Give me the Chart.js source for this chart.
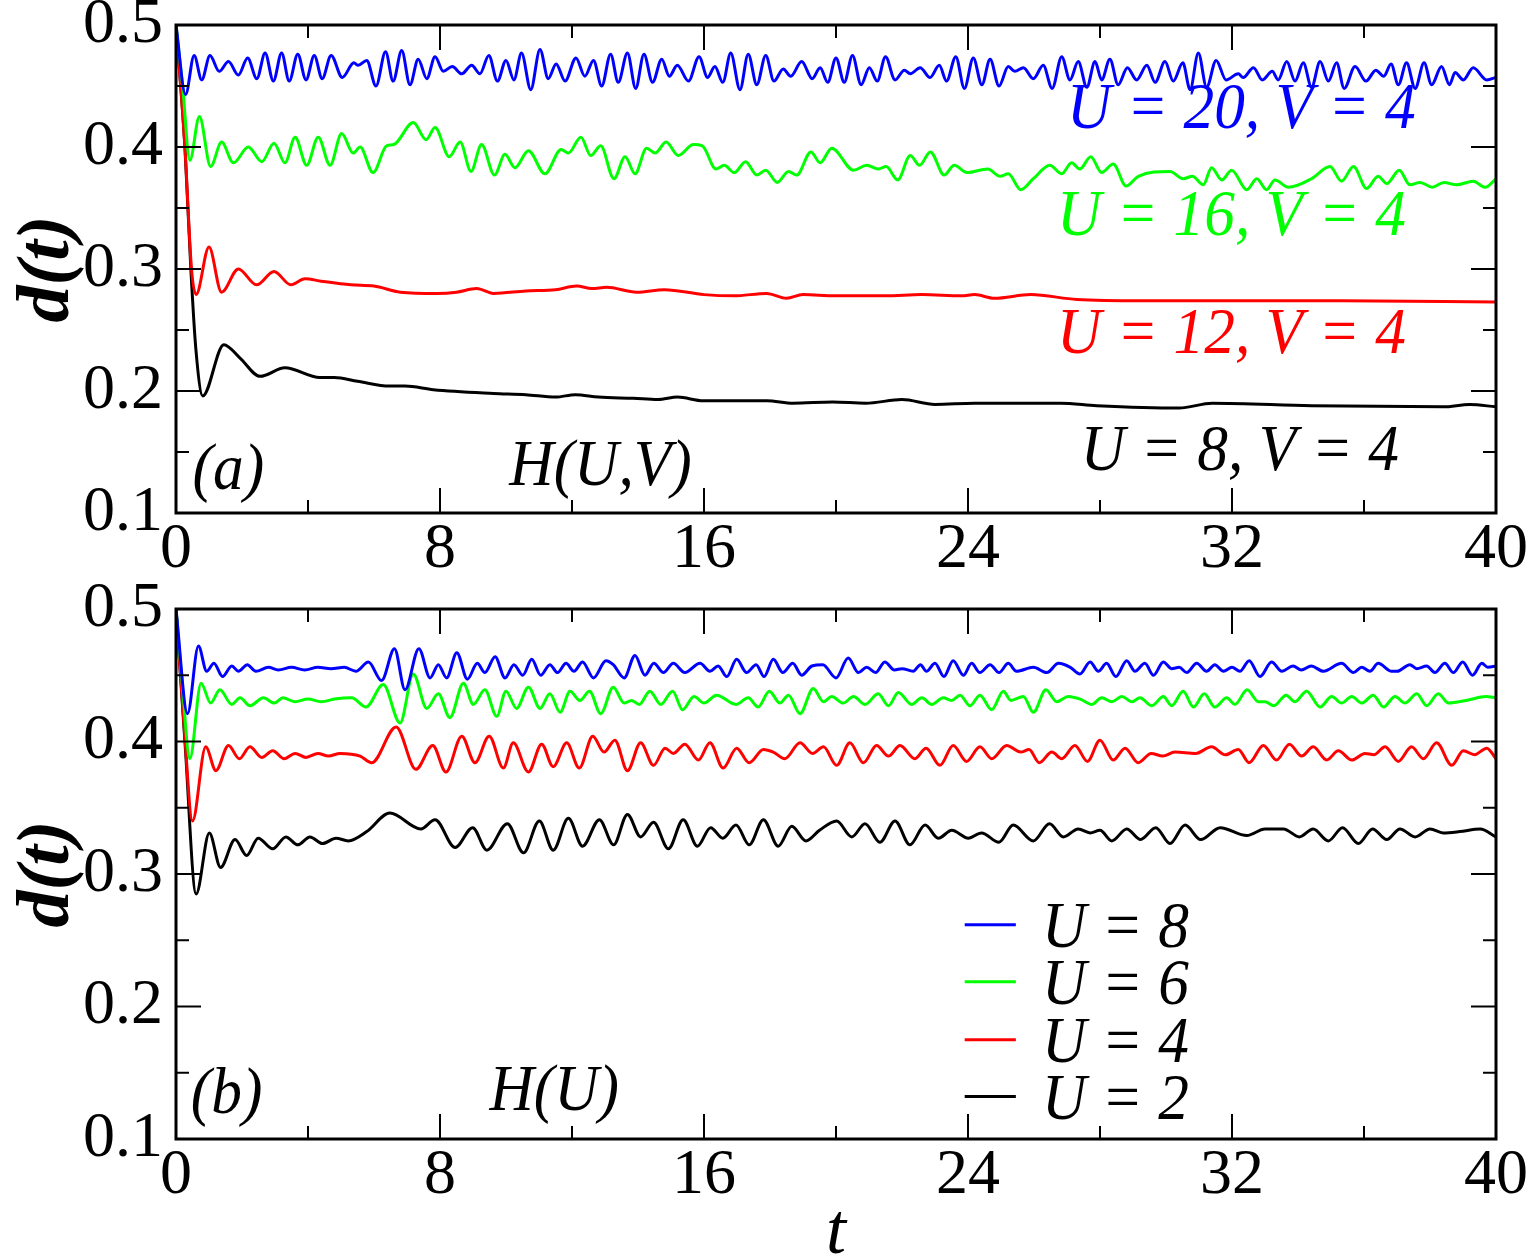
<!DOCTYPE html>
<html>
<head>
<meta charset="utf-8">
<script src="https://cdn.jsdelivr.net/npm/chart.js@4.4.1/dist/chart.umd.min.js"></script>
<style>
  html, body { margin: 0; padding: 0; background: #fff; }
  #wrap { position: relative; width: 1532px; height: 1259px; }
  canvas { position: absolute; left: 0; }
  #chartA { top: 0; }
  #chartB { top: 540px; }
</style>
</head>
<body>
<div id="wrap">
  <canvas id="chartA" width="1532" height="590"></canvas>
  <canvas id="chartB" width="1532" height="719"></canvas>
</div>
<script>
// values, each point is [t, d(t)]
// panel (a): H(U,V), V = 4
const a_U20 = [[0,0.5],[0.29,0.443],[0.55,0.475],[0.78,0.455],[1.03,0.475],[1.31,0.462],[1.59,0.470],[1.89,0.459],[2.17,0.473],[2.45,0.456],[2.70,0.477],[2.95,0.454],[3.20,0.477],[3.43,0.454],[3.69,0.476],[3.94,0.455],[4.19,0.475],[4.43,0.456],[4.70,0.475],[5.04,0.457],[5.39,0.469],[5.52,0.467],[5.78,0.471],[6.06,0.450],[6.35,0.478],[6.58,0.454],[6.84,0.479],[7.09,0.451],[7.34,0.472],[7.60,0.456],[7.85,0.474],[8.10,0.462],[8.37,0.466],[8.66,0.460],[8.96,0.467],[9.21,0.460],[9.48,0.475],[9.74,0.454],[10.0,0.471],[10.24,0.455],[10.47,0.477],[10.75,0.447],[11.03,0.480],[11.28,0.456],[11.52,0.468],[11.79,0.454],[12.12,0.473],[12.39,0.458],[12.65,0.471],[12.90,0.450],[13.17,0.476],[13.40,0.453],[13.68,0.477],[13.93,0.448],[14.18,0.476],[14.44,0.453],[14.72,0.472],[14.95,0.458],[15.19,0.467],[15.53,0.454],[15.85,0.474],[16.11,0.457],[16.33,0.466],[16.57,0.453],[16.81,0.477],[17.09,0.447],[17.34,0.476],[17.60,0.451],[17.87,0.475],[18.12,0.454],[18.40,0.464],[18.63,0.458],[18.96,0.470],[19.28,0.456],[19.52,0.465],[19.75,0.453],[20.00,0.473],[20.25,0.453],[20.50,0.475],[20.76,0.451],[21.01,0.465],[21.25,0.454],[21.50,0.474],[21.79,0.455],[22.07,0.463],[22.25,0.460],[22.55,0.465],[22.85,0.457],[23.13,0.467],[23.35,0.454],[23.63,0.474],[23.89,0.448],[24.16,0.473],[24.42,0.451],[24.67,0.472],[24.94,0.450],[25.22,0.466],[25.42,0.462],[25.68,0.465],[25.98,0.456],[26.28,0.467],[26.55,0.448],[26.84,0.474],[27.09,0.455],[27.34,0.470],[27.60,0.449],[27.85,0.470],[28.05,0.455],[28.30,0.472],[28.55,0.451],[28.83,0.465],[29.11,0.455],[29.42,0.467],[29.67,0.453],[29.97,0.470],[30.22,0.454],[30.51,0.469],[30.73,0.447],[30.98,0.477],[31.23,0.449],[31.52,0.471],[31.82,0.455],[32.19,0.460],[32.34,0.457],[32.65,0.465],[32.92,0.455],[33.22,0.462],[33.40,0.455],[33.66,0.470],[33.91,0.454],[34.16,0.469],[34.41,0.449],[34.67,0.470],[34.92,0.454],[35.17,0.469],[35.40,0.448],[35.73,0.466],[36.06,0.454],[36.36,0.463],[36.6,0.458],[36.82,0.468],[37.04,0.451],[37.29,0.469],[37.55,0.448],[37.82,0.469],[38.05,0.451],[38.35,0.466],[38.59,0.451],[38.76,0.461],[39.01,0.455],[39.31,0.465],[39.72,0.455],[40,0.457]];
const a_U16 = [[0,0.5],[0.2,0.45],[0.42,0.389],[0.71,0.425],[1.05,0.384],[1.38,0.404],[1.74,0.387],[2.19,0.400],[2.60,0.388],[2.97,0.403],[3.30,0.387],[3.61,0.408],[3.96,0.385],[4.31,0.408],[4.67,0.385],[5.02,0.411],[5.37,0.395],[5.58,0.400],[5.97,0.379],[6.38,0.401],[6.6,0.402],[7.19,0.420],[7.58,0.406],[7.85,0.416],[8.28,0.392],[8.61,0.404],[8.94,0.380],[9.26,0.402],[9.65,0.377],[9.97,0.394],[10.27,0.383],[10.68,0.397],[11.18,0.378],[11.67,0.398],[11.89,0.395],[12.27,0.408],[12.57,0.393],[12.87,0.401],[13.27,0.374],[13.61,0.392],[13.91,0.378],[14.26,0.399],[14.52,0.395],[14.85,0.404],[15.22,0.393],[15.68,0.402],[15.95,0.401],[16.36,0.382],[16.61,0.385],[16.92,0.379],[17.26,0.388],[17.60,0.377],[17.87,0.381],[18.22,0.371],[18.56,0.380],[18.81,0.377],[19.24,0.396],[19.52,0.387],[19.87,0.399],[20.53,0.381],[20.93,0.385],[21.28,0.382],[21.52,0.384],[21.87,0.373],[22.25,0.393],[22.53,0.385],[22.86,0.396],[23.28,0.377],[23.58,0.385],[23.97,0.379],[24.6,0.382],[24.97,0.376],[25.22,0.378],[25.6,0.365],[25.98,0.374],[26.48,0.385],[26.84,0.378],[27.14,0.387],[27.39,0.382],[27.72,0.392],[28.05,0.379],[28.40,0.386],[28.79,0.368],[29.16,0.376],[30.12,0.380],[30.52,0.374],[30.8,0.376],[31.13,0.369],[31.38,0.383],[31.69,0.373],[31.99,0.381],[32.45,0.365],[32.75,0.374],[33.05,0.365],[33.30,0.373],[33.71,0.367],[34.41,0.374],[34.97,0.384],[35.32,0.372],[35.68,0.384],[36.08,0.366],[36.43,0.376],[36.69,0.370],[37.07,0.381],[37.39,0.369],[37.7,0.371],[38.07,0.367],[38.42,0.371],[38.8,0.369],[39.31,0.372],[39.67,0.367],[40,0.374]];
const a_U12 = [[0,0.5],[0.27,0.40],[0.47,0.30],[0.61,0.279],[1.0,0.318],[1.38,0.281],[1.89,0.300],[2.44,0.287],[2.97,0.298],[3.48,0.287],[3.91,0.292],[4.4,0.290],[5.3,0.287],[6.0,0.286],[6.8,0.281],[7.9,0.280],[8.5,0.281],[9.11,0.284],[9.62,0.280],[10.6,0.282],[11.5,0.283],[12.14,0.286],[12.6,0.284],[13.05,0.285],[13.96,0.281],[14.8,0.283],[16.0,0.279],[16.9,0.278],[17.9,0.280],[18.5,0.276],[19.0,0.279],[19.97,0.278],[21.5,0.278],[22.6,0.279],[23.8,0.278],[24.2,0.279],[24.8,0.276],[25.9,0.279],[27.3,0.275],[29.3,0.274],[32.3,0.274],[35.3,0.274],[40,0.273]];
const a_U8 = [[0,0.5],[0.27,0.40],[0.45,0.30],[0.6,0.235],[0.81,0.196],[1.45,0.238],[1.94,0.227],[2.55,0.212],[3.30,0.219],[4.36,0.211],[4.8,0.211],[5.5,0.208],[6.48,0.204],[6.94,0.204],[7.8,0.201],[9.62,0.198],[10.6,0.197],[11.5,0.195],[12.1,0.197],[12.8,0.195],[13.86,0.194],[14.6,0.193],[15.2,0.195],[15.98,0.192],[17.9,0.192],[18.7,0.190],[19.9,0.191],[20.9,0.190],[22.0,0.193],[23.0,0.189],[24.2,0.190],[24.9,0.190],[26.8,0.190],[27.9,0.188],[30.4,0.186],[31.4,0.190],[34.4,0.188],[38.4,0.187],[39.2,0.189],[40,0.187]];

// panel (b): H(U)
const b_U8 = [[0,0.5],[0.35,0.421],[0.68,0.472],[0.93,0.453],[1.15,0.459],[1.41,0.449],[1.69,0.457],[1.89,0.453],[2.16,0.458],[2.42,0.453],[2.8,0.456],[3.1,0.454],[3.5,0.456],[3.9,0.454],[4.3,0.456],[4.7,0.455],[5.1,0.456],[5.45,0.453],[5.83,0.460],[6.23,0.446],[6.62,0.470],[6.94,0.439],[7.36,0.470],[7.70,0.448],[7.95,0.458],[8.20,0.448],[8.51,0.467],[8.83,0.447],[9.13,0.459],[9.36,0.452],[9.67,0.464],[9.97,0.448],[10.24,0.458],[10.51,0.450],[10.78,0.462],[11.05,0.450],[11.33,0.458],[11.56,0.452],[11.82,0.459],[12.06,0.453],[12.32,0.460],[12.65,0.448],[13.03,0.461],[13.25,0.458],[13.58,0.448],[13.91,0.465],[14.21,0.450],[14.48,0.459],[14.77,0.452],[15.07,0.459],[15.42,0.452],[15.88,0.459],[16.18,0.453],[16.43,0.457],[16.69,0.449],[16.99,0.462],[17.29,0.452],[17.58,0.458],[17.82,0.449],[18.10,0.462],[18.39,0.452],[18.69,0.459],[18.96,0.450],[19.27,0.457],[19.6,0.458],[20.0,0.448],[20.37,0.463],[20.68,0.452],[20.93,0.456],[21.2,0.452],[21.48,0.460],[21.77,0.454],[22.0,0.455],[22.34,0.453],[22.56,0.458],[22.74,0.453],[23.0,0.459],[23.27,0.449],[23.55,0.461],[23.86,0.450],[24.11,0.459],[24.36,0.452],[24.67,0.458],[24.94,0.452],[25.22,0.459],[25.47,0.453],[25.98,0.456],[26.39,0.452],[26.74,0.459],[27.1,0.456],[27.39,0.451],[27.7,0.460],[27.95,0.453],[28.2,0.459],[28.48,0.449],[28.81,0.461],[29.06,0.453],[29.36,0.459],[29.62,0.450],[29.92,0.460],[30.17,0.455],[30.4,0.456],[30.63,0.452],[30.93,0.459],[31.23,0.453],[31.48,0.458],[31.74,0.453],[32.0,0.456],[32.24,0.453],[32.52,0.461],[32.85,0.449],[33.20,0.460],[33.51,0.453],[33.85,0.457],[34.1,0.454],[34.4,0.457],[34.77,0.453],[35.32,0.459],[35.68,0.452],[35.93,0.456],[36.18,0.453],[36.43,0.459],[36.84,0.453],[37.0,0.453],[37.39,0.458],[37.6,0.455],[37.9,0.457],[38.15,0.452],[38.45,0.459],[38.71,0.452],[38.99,0.460],[39.29,0.450],[39.57,0.459],[39.75,0.456],[40,0.457]];
const b_U6 = [[0,0.5],[0.2,0.44],[0.42,0.387],[0.76,0.444],[1.05,0.429],[1.33,0.439],[1.69,0.428],[1.94,0.433],[2.24,0.427],[2.65,0.433],[2.98,0.429],[3.24,0.433],[3.6,0.430],[4.0,0.432],[4.4,0.430],[4.8,0.432],[5.32,0.433],[5.76,0.426],[6.28,0.443],[6.79,0.414],[7.19,0.451],[7.60,0.425],[7.95,0.436],[8.30,0.418],[8.71,0.444],[9.01,0.428],[9.36,0.439],[9.72,0.419],[10.0,0.438],[10.32,0.425],[10.68,0.441],[11.03,0.425],[11.33,0.436],[11.64,0.422],[11.94,0.438],[12.24,0.431],[12.53,0.438],[12.87,0.421],[13.25,0.441],[13.58,0.429],[13.8,0.431],[14.04,0.428],[14.36,0.438],[14.69,0.428],[15.05,0.438],[15.35,0.424],[15.70,0.434],[16.0,0.429],[16.38,0.435],[16.97,0.428],[17.34,0.433],[17.64,0.426],[17.98,0.438],[18.30,0.429],[18.56,0.435],[18.91,0.421],[19.31,0.440],[19.62,0.430],[19.87,0.434],[20.22,0.429],[20.53,0.434],[20.88,0.428],[21.28,0.436],[21.59,0.427],[21.89,0.437],[22.29,0.428],[22.60,0.433],[22.9,0.428],[23.25,0.433],[23.5,0.431],[23.76,0.435],[24.06,0.427],[24.36,0.435],[24.72,0.424],[25.07,0.438],[25.3,0.431],[25.68,0.434],[25.98,0.422],[26.36,0.439],[26.69,0.430],[27.04,0.434],[27.4,0.432],[27.75,0.428],[28.05,0.433],[28.36,0.430],[28.66,0.434],[28.97,0.430],[29.21,0.433],[29.57,0.427],[29.92,0.434],[30.17,0.427],[30.52,0.438],[30.83,0.426],[31.16,0.436],[31.48,0.426],[31.84,0.433],[32.09,0.428],[32.46,0.439],[32.8,0.430],[33.0,0.430],[33.27,0.427],[33.64,0.435],[33.91,0.430],[34.26,0.438],[34.67,0.426],[35.02,0.434],[35.32,0.429],[35.63,0.434],[35.93,0.429],[36.28,0.435],[36.59,0.426],[36.94,0.434],[37.24,0.429],[37.60,0.436],[37.9,0.427],[38.25,0.436],[38.56,0.429],[39.1,0.431],[39.7,0.434],[40,0.433]];
const b_U4 = [[0,0.5],[0.25,0.41],[0.50,0.340],[0.90,0.396],[1.21,0.378],[1.59,0.397],[1.92,0.387],[2.24,0.396],[2.60,0.388],[2.93,0.393],[3.28,0.387],[3.61,0.391],[3.94,0.388],[4.3,0.391],[4.62,0.389],[4.97,0.391],[5.58,0.389],[5.93,0.384],[6.67,0.411],[7.27,0.379],[7.78,0.397],[8.18,0.377],[8.66,0.404],[9.06,0.384],[9.49,0.404],[9.92,0.380],[10.22,0.399],[10.68,0.377],[11.08,0.398],[11.43,0.381],[11.84,0.399],[12.22,0.380],[12.63,0.404],[12.97,0.392],[13.30,0.401],[13.68,0.378],[14.08,0.399],[14.47,0.382],[14.82,0.395],[15.07,0.391],[15.42,0.398],[15.83,0.386],[16.18,0.399],[16.58,0.380],[16.99,0.395],[17.37,0.384],[17.80,0.394],[18.1,0.392],[18.45,0.387],[18.91,0.399],[19.29,0.391],[19.62,0.396],[20.02,0.382],[20.42,0.399],[20.83,0.384],[21.23,0.397],[21.59,0.389],[21.94,0.397],[22.39,0.387],[22.73,0.395],[23.15,0.382],[23.55,0.397],[23.96,0.385],[24.36,0.396],[24.72,0.387],[25.17,0.397],[25.6,0.392],[25.85,0.394],[26.16,0.384],[26.54,0.392],[26.84,0.387],[27.24,0.397],[27.62,0.385],[28.0,0.401],[28.40,0.386],[28.76,0.395],[29.16,0.384],[29.55,0.391],[29.9,0.389],[30.27,0.392],[30.9,0.391],[31.38,0.396],[31.8,0.390],[32.19,0.394],[32.52,0.384],[32.95,0.397],[33.35,0.386],[33.74,0.398],[34.11,0.389],[34.46,0.396],[34.87,0.386],[35.22,0.393],[35.63,0.386],[36.03,0.391],[36.3,0.390],[36.64,0.396],[37.04,0.385],[37.44,0.396],[37.80,0.387],[38.20,0.399],[38.66,0.382],[39.01,0.393],[39.35,0.390],[39.72,0.395],[40,0.387]];
const b_U2 = [[0,0.5],[0.27,0.40],[0.61,0.285],[1.01,0.331],[1.35,0.305],[1.79,0.326],[2.14,0.314],[2.49,0.327],[2.93,0.319],[3.33,0.328],[3.69,0.322],[4.06,0.328],[4.44,0.323],[4.85,0.327],[5.22,0.325],[5.78,0.332],[6.48,0.346],[7.42,0.334],[7.85,0.341],[8.46,0.320],[8.99,0.335],[9.42,0.318],[10.04,0.338],[10.53,0.316],[11.01,0.340],[11.43,0.318],[11.89,0.342],[12.32,0.321],[12.83,0.341],[13.26,0.322],[13.68,0.345],[14.08,0.328],[14.47,0.339],[14.92,0.319],[15.37,0.341],[15.80,0.321],[16.20,0.335],[16.57,0.327],[16.97,0.337],[17.37,0.322],[17.80,0.341],[18.25,0.321],[18.66,0.336],[19.09,0.325],[19.5,0.333],[20.02,0.340],[20.48,0.328],[20.88,0.338],[21.33,0.324],[21.79,0.340],[22.24,0.322],[22.70,0.337],[23.1,0.327],[23.51,0.333],[24.01,0.327],[24.41,0.331],[24.94,0.324],[25.37,0.337],[25.98,0.325],[26.47,0.338],[26.89,0.328],[27.34,0.334],[27.7,0.331],[28.0,0.333],[28.36,0.325],[28.81,0.334],[29.23,0.326],[29.69,0.335],[30.12,0.323],[30.58,0.337],[31.05,0.326],[31.64,0.335],[32.45,0.329],[33.0,0.334],[33.56,0.334],[34.04,0.328],[34.46,0.334],[34.92,0.325],[35.35,0.335],[35.83,0.323],[36.26,0.334],[36.69,0.326],[37.09,0.334],[37.55,0.328],[38.0,0.334],[38.4,0.331],[38.9,0.332],[39.52,0.334],[40,0.328]];

const labelsA = ['U = 20, V = 4', 'U = 16, V = 4', 'U = 12, V = 4', 'U = 8, V = 4'];
const labelsB = ['U = 8', 'U = 6', 'U = 4', 'U = 2'];
const colors = ['#0000ff', '#00ff00', '#ff0000', '#000000'];
const xTicks = [0, 8, 16, 24, 32, 40];
const yTicks = [0.1, 0.2, 0.3, 0.4, 0.5];

const serif = "'Liberation Serif', 'Times New Roman', serif";

// boxed frame with inward major/minor ticks on all four sides
const frameTicks = {
  id: 'frameTicks',
  afterDatasetsDraw(chart) {
    const { ctx, chartArea: a, scales: { x, y } } = chart;
    const seg = (x1, y1, x2, y2) => { ctx.beginPath(); ctx.moveTo(x1, y1); ctx.lineTo(x2, y2); ctx.stroke(); };
    ctx.save();
    ctx.strokeStyle = '#000';
    ctx.lineWidth = 2;
    xTicks.forEach((v, i) => {
      const p = x.getPixelForValue(v);
      seg(p, a.bottom, p, a.bottom - 25); seg(p, a.top, p, a.top + 25);
      if (i < xTicks.length - 1) {
        const m = x.getPixelForValue((v + xTicks[i + 1]) / 2);
        seg(m, a.bottom, m, a.bottom - 13); seg(m, a.top, m, a.top + 13);
      }
    });
    yTicks.forEach((v, i) => {
      const p = y.getPixelForValue(v);
      seg(a.left, p, a.left + 25, p); seg(a.right, p, a.right - 25, p);
      if (i < yTicks.length - 1) {
        const m = y.getPixelForValue((v + yTicks[i + 1]) / 2);
        seg(a.left, m, a.left + 13, m); seg(a.right, m, a.right - 13, m);
      }
    });
    ctx.lineWidth = 3;
    ctx.strokeRect(a.left, a.top, a.right - a.left, a.bottom - a.top);
    ctx.restore();
  }
};

// text notes and the in-plot key, anchored in data coordinates
function notesPlugin(texts, key) {
  const write = (ctx, text, px, py) => {
    ctx.save();
    ctx.translate(px, py);
    ctx.scale(0.93, 1);   // the original lettering is slightly condensed
    ctx.fillText(text, 0, 0);
    ctx.restore();
  };
  return {
    id: 'notes',
    afterDraw(chart) {
      const { ctx, scales: { x, y } } = chart;
      ctx.save();
      ctx.font = 'italic 66px ' + serif;
      ctx.textBaseline = 'alphabetic';
      ctx.textAlign = 'left';
      texts.forEach(n => {
        ctx.fillStyle = n.color;
        write(ctx, n.text, x.getPixelForValue(n.at[0]), y.getPixelForValue(n.at[1]));
      });
      if (key) {
        chart.data.datasets.forEach((ds, i) => {
          const py = y.getPixelForValue(key.rows[i]);
          ctx.strokeStyle = ds.borderColor;
          ctx.lineWidth = 3;
          ctx.beginPath();
          ctx.moveTo(x.getPixelForValue(key.line[0]), py);
          ctx.lineTo(x.getPixelForValue(key.line[1]), py);
          ctx.stroke();
          ctx.fillStyle = '#000';
          write(ctx, ds.label, x.getPixelForValue(key.text), py + 22);
        });
      }
      ctx.restore();
    }
  };
}

function makeChart(id, series, labels, opt) {
  return new Chart(document.getElementById(id), {
    type: 'line',
    data: {
      datasets: series.map((s, i) => ({
        label: labels[i],
        data: s.map(p => ({ x: p[0], y: p[1] })),
        borderColor: colors[i],
        borderWidth: 3,
        pointRadius: 0,
        cubicInterpolationMode: 'monotone',
        fill: false
      }))
    },
    options: {
      responsive: false,
      animation: false,
      devicePixelRatio: 1,
      events: [],
      layout: { padding: { top: opt.top, right: 36, left: 0, bottom: 0 } },
      plugins: { legend: { display: false }, tooltip: { enabled: false } },
      scales: {
        x: {
          type: 'linear', min: 0, max: 40,
          afterBuildTicks: s => { s.ticks = xTicks.map(v => ({ value: v })); },
          afterFit: s => { s.height = opt.xHeight; s.paddingLeft = 0; s.paddingRight = 0; },
          ticks: { color: '#000', padding: 0, maxRotation: 0, autoSkip: false,
                   font: { family: serif, size: 64, lineHeight: 1.15 } },
          grid: { display: false, drawTicks: false },
          border: { display: false },
          title: { display: opt.xTitle, text: 't', color: '#000', padding: { top: 0, bottom: 3 },
                   font: { family: serif, size: 72, style: 'italic', lineHeight: 0.6 } }
        },
        y: {
          type: 'linear', min: 0.1, max: 0.5,
          afterBuildTicks: s => { s.ticks = yTicks.map(v => ({ value: v })); },
          afterFit: s => { s.width = 176; s.paddingTop = 0; s.paddingBottom = 0; },
          ticks: { color: '#000', padding: 13, autoSkip: false,
                   callback: v => v.toFixed(1),
                   font: { family: serif, size: 64, lineHeight: 1.2 } },
          grid: { display: false, drawTicks: false },
          border: { display: false },
          title: { display: true, text: 'd(t)', color: '#000', padding: { top: 4, bottom: 0 },
                   font: { family: serif, size: 74, style: 'italic', weight: 'bold', lineHeight: 1.2 } }
        }
      }
    },
    plugins: [frameTicks, notesPlugin(opt.texts, opt.key)]
  });
}

makeChart('chartA', [a_U20, a_U16, a_U12, a_U8], labelsA, {
  top: 25, xHeight: 77, xTitle: false,
  texts: [
    { text: labelsA[0], color: colors[0], at: [27.0, 0.4156] },
    { text: labelsA[1], color: colors[1], at: [26.7, 0.328] },
    { text: labelsA[2], color: colors[2], at: [26.7, 0.231] },
    { text: labelsA[3], color: colors[3], at: [27.42, 0.135] },
    { text: '(a)', color: '#000', at: [0.5, 0.1197] },
    { text: 'H(U,V)', color: '#000', at: [10.1, 0.123] }
  ]
});

makeChart('chartB', [b_U8, b_U6, b_U4, b_U2], labelsB, {
  top: 69, xHeight: 120, xTitle: true,
  texts: [
    { text: '(b)', color: '#000', at: [0.45, 0.12] },
    { text: 'H(U)', color: '#000', at: [9.5, 0.1222] }
  ],
  key: { line: [23.9, 25.45], text: 26.24, rows: [0.2617, 0.2187, 0.175, 0.132] }
});
</script>
</body>
</html>
